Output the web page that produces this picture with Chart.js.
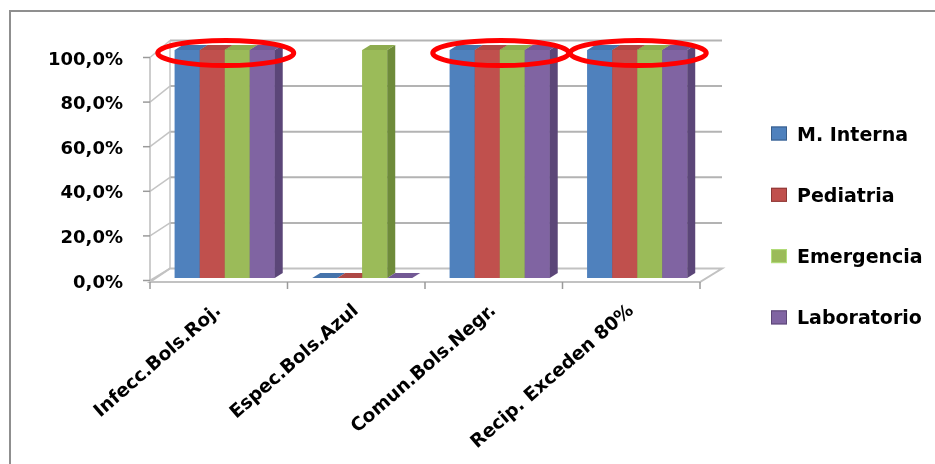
<!DOCTYPE html>
<html><head><meta charset="utf-8">
<script src="https://cdn.jsdelivr.net/npm/chart.js@4"></script>
<style>html,body{margin:0;padding:0;background:#fff;overflow:hidden}</style>
</head><body>
<canvas id="c" width="935" height="464"></canvas>
<script>
// ---- data ----
const categories = ['Infecc.Bols.Roj.', 'Espec.Bols.Azul', 'Comun.Bols.Negr.', 'Recip. Exceden 80%'];
const seriesNames = ['M. Interna', 'Pediatria', 'Emergencia', 'Laboratorio'];
const mInterna    = [100, 0, 100, 100];
const pediatria   = [100, 0, 100, 100];
const emergencia  = [100, 100, 100, 100];
const laboratorio = [100, 0, 100, 100];
const yTickValues = [0, 20, 40, 60, 80, 100];
const highlightedCategories = [0, 2, 3];

// ---- styles ----
const frontColors = ['#4F81BD', '#C0504D', '#9BBB59', '#8064A2'];
const sideColors  = ['#36598A', '#8E3A38', '#6E8B3A', '#5B4678'];
const topColors   = ['#4573AB', '#AE4845', '#8DAB4F', '#725894'];
const edgeColors  = ['#385D8A', '#8C3836', '#B2DE7A', '#5C4776'];
const FONT = 'DejaVu Sans';
const DX = 8, DY = 5;            // bar depth
const WDX = 20, WDX2 = 22;       // wall depth

const seriesData = [mInterna, pediatria, emergencia, laboratorio];

const framePlugin = {
  id: 'frame',
  beforeDraw(chart) {
    const ctx = chart.ctx;
    ctx.save();
    ctx.fillStyle = '#fff';
    ctx.fillRect(0, 0, chart.width, chart.height);
    ctx.strokeStyle = '#8f8f8f';
    ctx.lineWidth = 2;
    ctx.strokeRect(10, 11, 2000, 2000);
    ctx.restore();
  },
  beforeDatasetsDraw(chart) {
    const ctx = chart.ctx;
    const x = chart.scales.x, yB = chart.scales.y, yF = chart.scales.yFront;
    const step = x.getPixelForValue(1) - x.getPixelForValue(0);
    const frontL = x.getPixelForValue(0) - step / 2 - 6;
    const frontR = x.getPixelForValue(categories.length - 1) + step / 2 - 6;
    const backL = frontL + WDX, backR = frontR + WDX2;
    const backY = v => yB.getPixelForValue(v) - 9.5;
    const frontY = v => yF.getPixelForValue(v) - 2.5;
    ctx.save();
    ctx.lineCap = 'butt';
    // back wall gridlines
    ctx.strokeStyle = '#b3b3b3';
    ctx.lineWidth = 2;
    yTickValues.forEach(v => {
      if (v === 0) return;
      ctx.beginPath();
      ctx.moveTo(backL, backY(v));
      ctx.lineTo(backR, backY(v));
      ctx.stroke();
    });
    // left wall diagonals
    ctx.strokeStyle = '#c4c4c4';
    ctx.lineWidth = 1.5;
    yTickValues.forEach(v => {
      ctx.beginPath();
      ctx.moveTo(frontL, frontY(v));
      ctx.lineTo(backL, backY(v));
      ctx.stroke();
    });
    // back-left vertical
    ctx.beginPath();
    ctx.moveTo(backL, backY(100));
    ctx.lineTo(backL, backY(0));
    ctx.stroke();
    // front vertical axis
    ctx.strokeStyle = '#bdbdbd';
    ctx.beginPath();
    ctx.moveTo(frontL, frontY(100));
    ctx.lineTo(frontL, frontY(0));
    ctx.stroke();
    // front ticks
    ctx.strokeStyle = '#9a9a9a';
    ctx.lineWidth = 1.5;
    yTickValues.forEach(v => {
      ctx.beginPath();
      ctx.moveTo(frontL - 7, frontY(v));
      ctx.lineTo(frontL, frontY(v));
      ctx.stroke();
    });
    // floor
    const fy = yF.getPixelForValue(0) - 1, by = backY(0);
    ctx.strokeStyle = '#c2c2c2';
    ctx.lineWidth = 2;
    ctx.beginPath();
    ctx.moveTo(frontL, fy);
    ctx.lineTo(frontR, fy);
    ctx.lineTo(backR, by);
    ctx.lineTo(backL, by);
    ctx.closePath();
    ctx.stroke();
    // category ticks
    ctx.strokeStyle = '#9a9a9a';
    ctx.lineWidth = 1.5;
    for (let i = 0; i <= categories.length; i++) {
      const px = frontL + i * step;
      ctx.beginPath();
      ctx.moveTo(px, fy);
      ctx.lineTo(px, fy + 7);
      ctx.stroke();
    }
    ctx.restore();
  },
  afterDatasetsDraw(chart) {
    const ctx = chart.ctx;
    ctx.save();
    for (let j = 0; j < categories.length; j++) {
      for (let i = 0; i < seriesData.length; i++) {
        const el = chart.getDatasetMeta(i).data[j];
        const p = el.getProps(['x', 'y', 'base', 'width'], true);
        const x0 = p.x - p.width / 2, x1 = p.x + p.width / 2;
        const top = Math.min(p.y, p.base), base = Math.max(p.y, p.base);
        if (base - top > 0.5) el.draw(ctx);
        // side face
        if (base - top > 0.5) {
          ctx.fillStyle = sideColors[i];
          ctx.beginPath();
          ctx.moveTo(x1, top);
          ctx.lineTo(x1 + DX, top - DY);
          ctx.lineTo(x1 + DX, base - DY);
          ctx.lineTo(x1, base);
          ctx.closePath();
          ctx.fill();
        }
        // top face
        ctx.fillStyle = topColors[i];
        ctx.beginPath();
        ctx.moveTo(x0, top);
        ctx.lineTo(x1, top);
        ctx.lineTo(x1 + DX, top - DY);
        ctx.lineTo(x0 + DX, top - DY);
        ctx.closePath();
        ctx.fill();
      }
    }
    ctx.restore();
  },
  afterDraw(chart) {
    const ctx = chart.ctx;
    const x = chart.scales.x, yB = chart.scales.y;
    ctx.save();
    // highlight ellipses
    ctx.strokeStyle = '#ff0000';
    ctx.lineWidth = 5;
    highlightedCategories.forEach(j => {
      const cx = x.getPixelForValue(j) + 1;
      const cy = yB.getPixelForValue(100) + 3;
      ctx.beginPath();
      ctx.ellipse(cx, cy, 68, 12.5, 0, 0, Math.PI * 2);
      ctx.stroke();
    });
    // legend
    ctx.font = 'bold 19px "' + FONT + '"';
    ctx.textBaseline = 'alphabetic';
    ctx.textAlign = 'left';
    seriesNames.forEach((name, i) => {
      const cy = 133.5 + i * 61.3;
      ctx.fillStyle = frontColors[i];
      ctx.fillRect(771, cy - 7, 16, 14);
      ctx.strokeStyle = edgeColors[i];
      ctx.lineWidth = 1;
      ctx.strokeRect(771.5, cy - 6.5, 15, 13);
      ctx.fillStyle = '#000';
      ctx.fillText(name, 797, cy + 7);
    });
    ctx.restore();
  }
};

new Chart(document.getElementById('c'), {
  type: 'bar',
  data: {
    labels: categories,
    datasets: seriesNames.map((name, i) => ({
      label: name,
      data: seriesData[i],
      backgroundColor: frontColors[i],
      borderWidth: 0,
      categoryPercentage: 0.727,
      barPercentage: 1.0
    }))
  },
  options: {
    responsive: false,
    animation: false,
    devicePixelRatio: 1,
    layout: { padding: { left: 0, top: 50, right: 229, bottom: 0 } },
    plugins: { legend: { display: false }, tooltip: { enabled: false } },
    scales: {
      x: {
        offset: true,
        grid: { display: false, drawTicks: false },
        border: { display: false },
        ticks: {
          autoSkip: false, minRotation: 41, maxRotation: 41,
          labelOffset: -6, padding: 22, color: '#000',
          font: { family: FONT, weight: 'bold', size: 18.5 }
        },
        afterFit: s => { s.height = 186; }
      },
      y: { display: false, min: 0, max: 100 },
      yFront: {
        position: 'left',
        min: 2.242, max: 104.484,
        afterBuildTicks: s => { s.ticks = yTickValues.map(v => ({ value: v })); },
        afterFit: s => { s.width = 156; },
        grid: { display: false, drawTicks: false },
        border: { display: false },
        ticks: {
          padding: 33, color: '#000',
          font: { family: FONT, weight: 'bold', size: 18 },
          callback: v => v.toFixed(1).replace('.', ',') + '%'
        }
      }
    }
  },
  plugins: [framePlugin]
});
</script>
</body></html>
